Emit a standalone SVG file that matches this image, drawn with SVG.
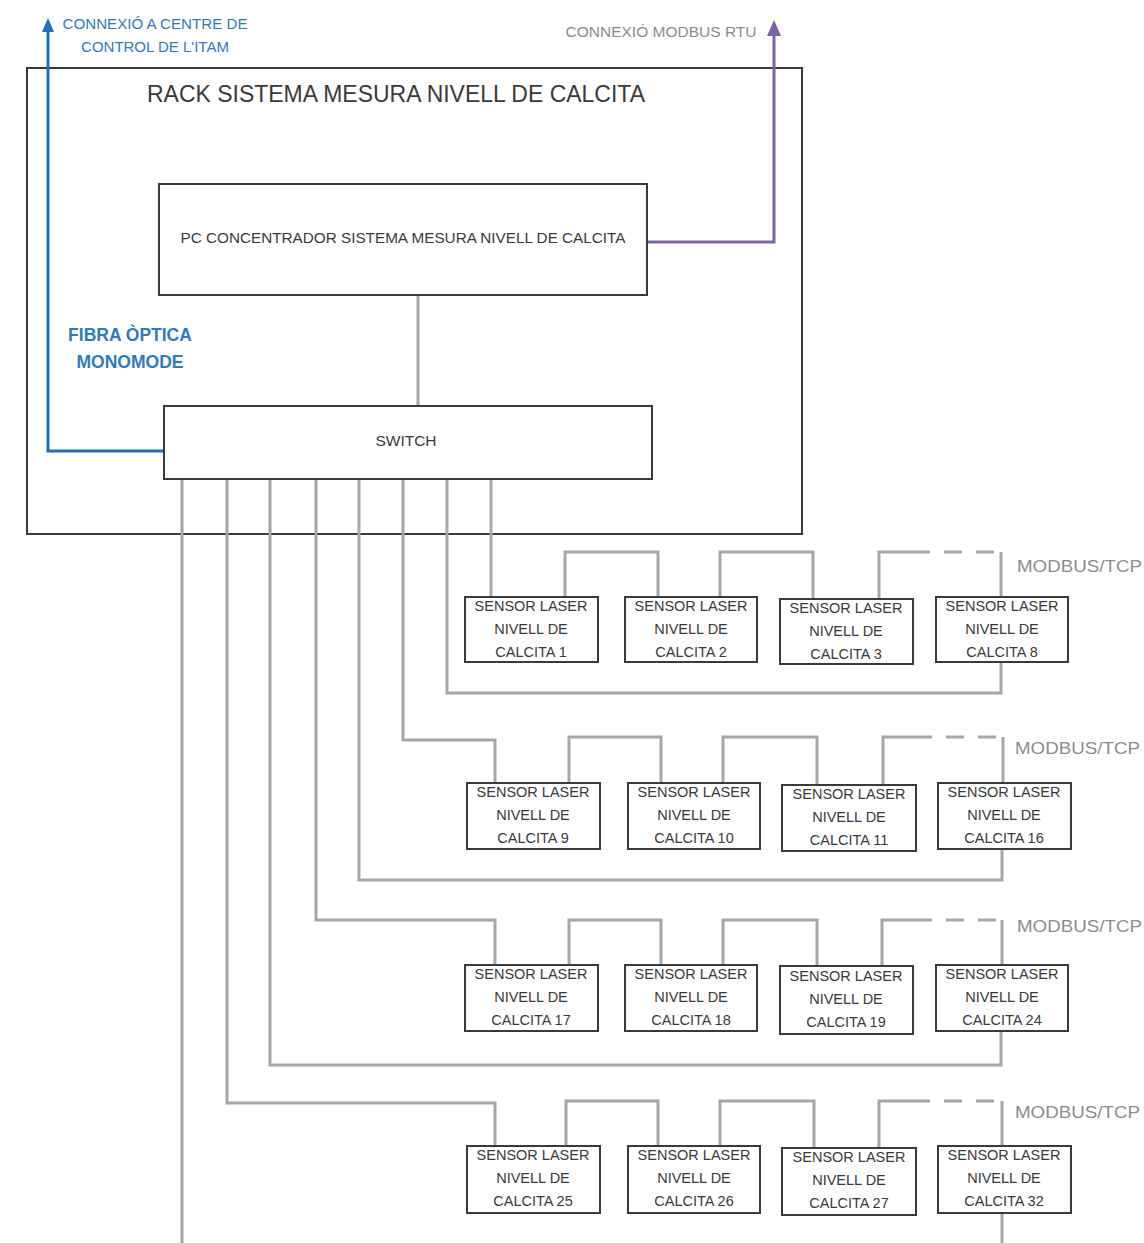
<svg xmlns="http://www.w3.org/2000/svg" width="1144" height="1243" viewBox="0 0 1144 1243">
<style>
.box{fill:#fff;stroke:#3a3a3a;stroke-width:2}
.w{fill:none;stroke:#a6a6a6;stroke-width:3}
.d{fill:none;stroke:#a6a6a6;stroke-width:3;stroke-dasharray:18 14}
.t{font-family:"Liberation Sans",Arial,sans-serif;fill:#3a3a3a;text-anchor:middle}
.s{font-size:14.5px}
.m{font-family:"Liberation Sans",Arial,sans-serif;font-size:17px;fill:#8c8c8c}
</style>
<defs>
<marker id="ab" markerWidth="12" markerHeight="14" refX="6" refY="10" markerUnits="userSpaceOnUse" viewBox="0 0 12 14"><path d="M0,14 L6,0 L12,14 Z" fill="#1f6fbf"/></marker>
<marker id="ap" markerWidth="14" markerHeight="16" refX="7" refY="12" markerUnits="userSpaceOnUse" viewBox="0 0 14 16"><path d="M0,16 L7,0 L14,16 Z" fill="#7b62a8"/></marker>
</defs>
<rect width="1144" height="1243" fill="#fff"/>
<g id="rack">
<rect x="27" y="68" width="775" height="466" fill="none" stroke="#3a3a3a" stroke-width="2"/>
<text class="t" x="396" y="102" font-size="23" textLength="498" lengthAdjust="spacingAndGlyphs">RACK SISTEMA MESURA NIVELL DE CALCITA</text>
</g>
<g id="connectors">
<path class="w" d="M418,295 V406"/>
<path d="M172,451 H48 V28" fill="none" stroke="#1f6fbf" stroke-width="3" marker-end="url(#ab)"/>
<path d="M647,242 H774 V32" fill="none" stroke="#7b62a8" stroke-width="3" marker-end="url(#ap)"/>
<path class="w" d="M491,479 V597"/>
<path class="w" d="M565,597 V552 H658 V597"/>
<path class="w" d="M720,597 V552 H813 V599"/>
<path class="w" d="M879,599 V552 H930"/>
<path class="d" d="M944,552 H1001"/>
<path class="w" d="M1001,552 V597"/>
<path class="w" d="M1001,662 V693 H447 V479"/>
<path class="w" d="M403,479 V740 H495 V783"/>
<path class="w" d="M569,783 V737 H661 V783"/>
<path class="w" d="M723,783 V737 H817 V785"/>
<path class="w" d="M883,785 V737 H932"/>
<path class="d" d="M946,737 H1003"/>
<path class="w" d="M1003,737 V783"/>
<path class="w" d="M1002,849 V880 H359 V479"/>
<path class="w" d="M316,479 V920 H495 V965"/>
<path class="w" d="M569,965 V920 H661 V965"/>
<path class="w" d="M723,965 V920 H817 V966"/>
<path class="w" d="M882,966 V920 H932"/>
<path class="d" d="M946,920 H1002"/>
<path class="w" d="M1002,920 V965"/>
<path class="w" d="M1001,1030 V1065 H270 V479"/>
<path class="w" d="M227,479 V1103 H495 V1146"/>
<path class="w" d="M566,1146 V1101 H658 V1146"/>
<path class="w" d="M720,1146 V1101 H814 V1148"/>
<path class="w" d="M879,1148 V1101 H930"/>
<path class="d" d="M944,1101 H1002"/>
<path class="w" d="M1002,1101 V1146"/>
<path class="w" d="M1002,1213 V1243"/>
<path class="w" d="M182,479 V1243"/>
</g>
<g id="labels">
<text x="155" y="29" font-family="Liberation Sans,Arial,sans-serif" font-size="15" fill="#2e7bbf" text-anchor="middle" textLength="185" lengthAdjust="spacingAndGlyphs">CONNEXIÓ A CENTRE DE</text>
<text x="155" y="52" font-family="Liberation Sans,Arial,sans-serif" font-size="15" fill="#2e7bbf" text-anchor="middle">CONTROL DE L'ITAM</text>
<text x="130" y="341" font-family="Liberation Sans,Arial,sans-serif" font-size="17.5" font-weight="bold" fill="#2e7bbf" text-anchor="middle">FIBRA ÒPTICA</text>
<text x="130" y="368" font-family="Liberation Sans,Arial,sans-serif" font-size="17.5" font-weight="bold" fill="#2e7bbf" text-anchor="middle">MONOMODE</text>
<text x="661" y="37" font-family="Liberation Sans,Arial,sans-serif" font-size="14" fill="#8c8c8c" text-anchor="middle" textLength="191" lengthAdjust="spacingAndGlyphs">CONNEXIÓ MODBUS RTU</text>
<text class="m" x="1017" y="572" textLength="125" lengthAdjust="spacingAndGlyphs">MODBUS/TCP</text>
<text class="m" x="1015" y="754" textLength="125" lengthAdjust="spacingAndGlyphs">MODBUS/TCP</text>
<text class="m" x="1017" y="932" textLength="125" lengthAdjust="spacingAndGlyphs">MODBUS/TCP</text>
<text class="m" x="1015" y="1118" textLength="125" lengthAdjust="spacingAndGlyphs">MODBUS/TCP</text>
</g>
<g id="pc"><rect class="box" x="159" y="184" width="488" height="111"/><text class="t" x="403" y="243" font-size="14" textLength="445" lengthAdjust="spacingAndGlyphs">PC CONCENTRADOR SISTEMA MESURA NIVELL DE CALCITA</text></g>
<g id="switch"><rect class="box" x="164" y="406" width="488" height="73"/><text class="t" x="406" y="446" font-size="15.5">SWITCH</text></g>
<g id="s1"><rect class="box" x="465" y="597" width="133" height="65"/><text class="t s" x="531" y="611">SENSOR LASER</text><text class="t s" x="531" y="634">NIVELL DE</text><text class="t s" x="531" y="657">CALCITA 1</text></g>
<g id="s2"><rect class="box" x="625" y="597" width="132" height="65"/><text class="t s" x="691" y="611">SENSOR LASER</text><text class="t s" x="691" y="634">NIVELL DE</text><text class="t s" x="691" y="657">CALCITA 2</text></g>
<g id="s3"><rect class="box" x="780" y="599" width="133" height="65"/><text class="t s" x="846" y="613">SENSOR LASER</text><text class="t s" x="846" y="636">NIVELL DE</text><text class="t s" x="846" y="659">CALCITA 3</text></g>
<g id="s8"><rect class="box" x="936" y="597" width="132" height="65"/><text class="t s" x="1002" y="611">SENSOR LASER</text><text class="t s" x="1002" y="634">NIVELL DE</text><text class="t s" x="1002" y="657">CALCITA 8</text></g>
<g id="s9"><rect class="box" x="467" y="783" width="133" height="66"/><text class="t s" x="533" y="797">SENSOR LASER</text><text class="t s" x="533" y="820">NIVELL DE</text><text class="t s" x="533" y="843">CALCITA 9</text></g>
<g id="s10"><rect class="box" x="628" y="783" width="132" height="66"/><text class="t s" x="694" y="797">SENSOR LASER</text><text class="t s" x="694" y="820">NIVELL DE</text><text class="t s" x="694" y="843">CALCITA 10</text></g>
<g id="s11"><rect class="box" x="782" y="785" width="134" height="66"/><text class="t s" x="849" y="799">SENSOR LASER</text><text class="t s" x="849" y="822">NIVELL DE</text><text class="t s" x="849" y="845">CALCITA 11</text></g>
<g id="s16"><rect class="box" x="938" y="783" width="133" height="66"/><text class="t s" x="1004" y="797">SENSOR LASER</text><text class="t s" x="1004" y="820">NIVELL DE</text><text class="t s" x="1004" y="843">CALCITA 16</text></g>
<g id="s17"><rect class="box" x="465" y="965" width="133" height="66"/><text class="t s" x="531" y="979">SENSOR LASER</text><text class="t s" x="531" y="1002">NIVELL DE</text><text class="t s" x="531" y="1025">CALCITA 17</text></g>
<g id="s18"><rect class="box" x="625" y="965" width="132" height="66"/><text class="t s" x="691" y="979">SENSOR LASER</text><text class="t s" x="691" y="1002">NIVELL DE</text><text class="t s" x="691" y="1025">CALCITA 18</text></g>
<g id="s19"><rect class="box" x="780" y="966" width="133" height="68"/><text class="t s" x="846" y="981">SENSOR LASER</text><text class="t s" x="846" y="1004">NIVELL DE</text><text class="t s" x="846" y="1027">CALCITA 19</text></g>
<g id="s24"><rect class="box" x="936" y="965" width="132" height="66"/><text class="t s" x="1002" y="979">SENSOR LASER</text><text class="t s" x="1002" y="1002">NIVELL DE</text><text class="t s" x="1002" y="1025">CALCITA 24</text></g>
<g id="s25"><rect class="box" x="467" y="1146" width="133" height="67"/><text class="t s" x="533" y="1160">SENSOR LASER</text><text class="t s" x="533" y="1183">NIVELL DE</text><text class="t s" x="533" y="1206">CALCITA 25</text></g>
<g id="s26"><rect class="box" x="628" y="1146" width="132" height="67"/><text class="t s" x="694" y="1160">SENSOR LASER</text><text class="t s" x="694" y="1183">NIVELL DE</text><text class="t s" x="694" y="1206">CALCITA 26</text></g>
<g id="s27"><rect class="box" x="782" y="1148" width="134" height="67"/><text class="t s" x="849" y="1162">SENSOR LASER</text><text class="t s" x="849" y="1185">NIVELL DE</text><text class="t s" x="849" y="1208">CALCITA 27</text></g>
<g id="s32"><rect class="box" x="938" y="1146" width="133" height="67"/><text class="t s" x="1004" y="1160">SENSOR LASER</text><text class="t s" x="1004" y="1183">NIVELL DE</text><text class="t s" x="1004" y="1206">CALCITA 32</text></g>
</svg>
